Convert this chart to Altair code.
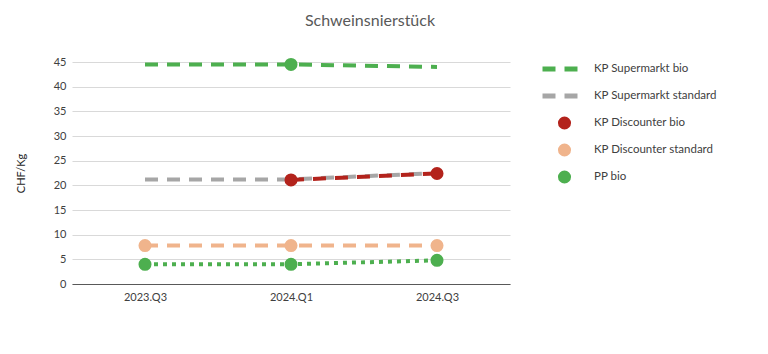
import altair as alt
import pandas as pd

quarters = ["2023.Q3", "2024.Q1", "2024.Q3"]
series = ["KP Supermarkt bio", "KP Supermarkt standard", "KP Discounter bio",
          "KP Discounter standard", "PP bio"]
colors = ["#4DAF4F", "#A6A6A6", "#B3231C", "#F0B48C", "#4DAF4F"]
dashes = [[13, 9], [13, 9], [13, 9], [13, 9], [4, 5]]
legend_shapes = ["stroke", "stroke", "circle", "circle", "circle"]
legend_sizes = [1936, 1936, 170, 170, 170]
legend_widths = [5, 5, 0, 0, 0]

supermarkt_bio = [44.5, 44.5, 44.0]
supermarkt_standard = [21.2, 21.2, 22.5]
discounter_bio = [None, 21.1, 22.4]
discounter_standard = [7.8, 7.8, 7.8]
pp_bio = [4.0, 4.0, 4.8]
has_markers = [False, False, True, True, True]

extra_quarter = ["2024.Q1"]
extra_value = [44.5]

values_by_series = [supermarkt_bio, supermarkt_standard, discounter_bio,
                    discounter_standard, pp_bio]

rows = []
for s, vals, mk in zip(series, values_by_series, has_markers):
    for q, v in zip(quarters, vals):
        if v is not None:
            rows.append({"Quartal": q, "Serie": s, "Wert": v, "Marker": mk})
df = pd.DataFrame(rows)
extra = pd.DataFrame({"Quartal": extra_quarter, "Wert": extra_value})

FONT = "Lato"


def make_legend():
    return alt.Legend(
        title=None,
        orient="none",
        legendX=468,
        legendY=-4,
        clipHeight=22,
        rowPadding=5,
        labelFont=FONT,
        labelFontSize=11.5,
        labelColor="#404040",
        labelOffset=5,
        symbolOpacity=1,
    )


color = alt.Color("Serie:N", scale=alt.Scale(domain=series, range=colors),
                  sort=series, legend=make_legend())

x = alt.X("Quartal:N", sort=quarters, title=None,
          axis=alt.Axis(labelAngle=0, ticks=False, grid=False, domain=True,
                        domainColor="#595959", domainWidth=1.2,
                        labelFont=FONT, labelFontSize=11, labelColor="#404040",
                        labelPadding=7))
y = alt.Y("Wert:Q", title="CHF/Kg",
          scale=alt.Scale(domain=[0, 45], nice=False),
          axis=alt.Axis(values=list(range(0, 50, 5)), grid=True,
                        gridColor="#D9D9D9", gridWidth=1, domain=False,
                        ticks=False, labelFont=FONT, labelFontSize=11,
                        labelColor="#404040", labelPadding=6,
                        titleFont=FONT, titleFontSize=11, titleColor="#262626",
                        titleFontWeight="normal", titlePadding=27))

lines = alt.Chart(df).mark_line(strokeWidth=4, strokeCap="butt").encode(
    x=x, y=y, color=color,
    strokeDash=alt.StrokeDash("Serie:N", sort=series,
                              scale=alt.Scale(domain=series, range=dashes),
                              legend=make_legend()),
    order=alt.Order("Quartal:N"),
)

points = alt.Chart(df).transform_filter("datum.Marker").mark_point(
    filled=True, opacity=1
).encode(
    x=x, y=y, color=color,
    shape=alt.Shape("Serie:N", sort=series,
                    scale=alt.Scale(domain=series, range=legend_shapes),
                    legend=make_legend()),
    size=alt.Size("Serie:N", sort=series,
                  scale=alt.Scale(type="ordinal", domain=series, range=legend_sizes),
                  legend=make_legend()),
    strokeWidth=alt.StrokeWidth("Serie:N", sort=series,
                                scale=alt.Scale(type="ordinal", domain=series,
                                                range=legend_widths),
                                legend=make_legend()),
)

extra_pts = alt.Chart(extra).mark_point(
    filled=True, size=170, opacity=1, shape="circle", color=colors[0]
).encode(x=x, y=y)

chart = alt.layer(lines, points, extra_pts).properties(
    width=438, height=222,
    autosize=alt.AutoSizeParams(type="none"),
    padding={"left": 72, "top": 62, "right": 258, "bottom": 70},
    title=alt.TitleParams("Schweinsnierstück", font=FONT, fontSize=16,
                          fontWeight="normal", color="#595959",
                          anchor="middle", dx=79, offset=27),
).configure_view(stroke=None)

chart.save("out.html", embed_options={"renderer": "svg", "actions": False})
